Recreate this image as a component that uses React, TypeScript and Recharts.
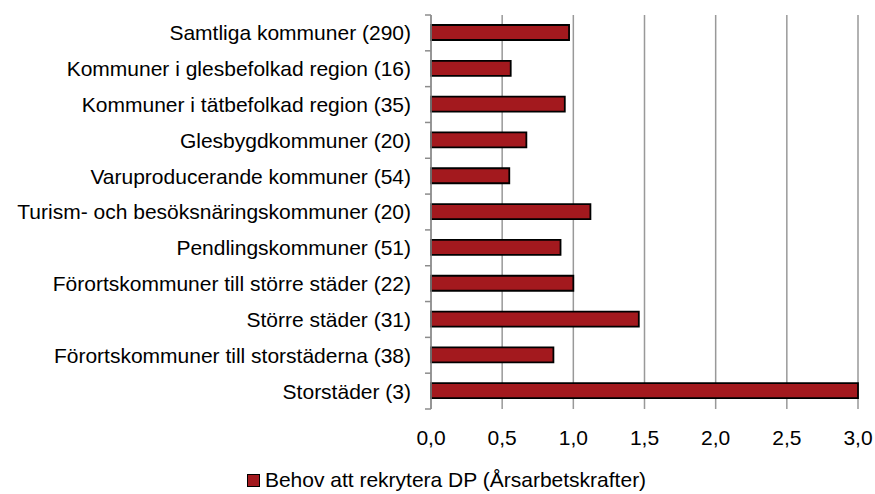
import React from 'react';
import { BarChart, Bar, XAxis, YAxis, CartesianGrid, Legend } from 'recharts';

const categories = [
  'Samtliga kommuner (290)',
  'Kommuner i glesbefolkad region (16)',
  'Kommuner i tätbefolkad region (35)',
  'Glesbygdkommuner (20)',
  'Varuproducerande kommuner (54)',
  'Turism- och besöksnäringskommuner (20)',
  'Pendlingskommuner (51)',
  'Förortskommuner till större städer (22)',
  'Större städer (31)',
  'Förortskommuner till storstäderna (38)',
  'Storstäder (3)',
];
const values = [0.97, 0.56, 0.94, 0.67, 0.55, 1.12, 0.91, 1.0, 1.46, 0.86, 3.0];
const xTicks = [0, 0.5, 1, 1.5, 2, 2.5, 3];
const seriesName = 'Behov att rekrytera DP (Årsarbetskrafter)';

const data = categories.map((name, i) => ({ name, value: values[i] }));

const FONT = '"Liberation Sans", Arial, sans-serif';
const W = 875;
const H = 494;
const TOP = 15;
const PLOT_H = 394;
const BAND = PLOT_H / categories.length;

const YTick = (props: any) => {
  const { x, y, payload, index } = props;
  const ax = x + 20;
  return (
    <g>
      <line x1={ax - 6} x2={ax} y1={y - BAND / 2} y2={y - BAND / 2} stroke="#8c8c8c" strokeWidth={1.5} />
      {index === categories.length - 1 && (
        <line x1={ax - 6} x2={ax} y1={y + BAND / 2} y2={y + BAND / 2} stroke="#8c8c8c" strokeWidth={1.5} />
      )}
      <text x={x} y={y} dy="0.355em" textAnchor="end" fontFamily={FONT} fontSize={21} fill="#000">
        {payload.value}
      </text>
    </g>
  );
};

const LegendContent = () => (
  <div
    style={{
      height: 24,
      display: 'flex',
      justifyContent: 'center',
      alignItems: 'center',
      paddingLeft: 35,
      fontFamily: FONT,
      fontSize: 21,
      color: '#000',
    }}
  >
    <span
      style={{
        display: 'inline-block',
        width: 11,
        height: 11,
        background: '#A3191E',
        border: '1px solid #000',
        marginRight: 5,
      }}
    />
    <span>{seriesName}</span>
  </div>
);

export default function App() {
  return (
    <div style={{ position: 'absolute', left: 0, top: 0, width: W, height: H }}>
      <BarChart
        width={W}
        height={H}
        data={data}
        layout="vertical"
        margin={{ top: TOP, right: 17, left: 0, bottom: 2 }}
        barSize={15}
      >
        <CartesianGrid horizontal={false} stroke="#999" strokeWidth={1.5} />
        <XAxis
          type="number"
          domain={[0, 3]}
          ticks={xTicks}
          axisLine={false}
          tickLine={false}
          tickSize={0}
          tickMargin={21}
          height={59}
          interval={0}
          tick={{ fontFamily: FONT, fontSize: 21, fill: '#000' }}
          tickFormatter={(v: number) => v.toFixed(1).replace('.', ',')}
        />
        <YAxis
          type="category"
          dataKey="name"
          width={431}
          axisLine={{ stroke: '#8c8c8c', strokeWidth: 1.5 }}
          tickLine={false}
          tickSize={0}
          tickMargin={20}
          interval={0}
          tick={<YTick />}
        />
        <Legend verticalAlign="bottom" align="center" content={<LegendContent />} />
        <Bar dataKey="value" name={seriesName} fill="#A3191E" stroke="#000" strokeWidth={1.8} isAnimationActive={false} />
      </BarChart>
    </div>
  );
}
